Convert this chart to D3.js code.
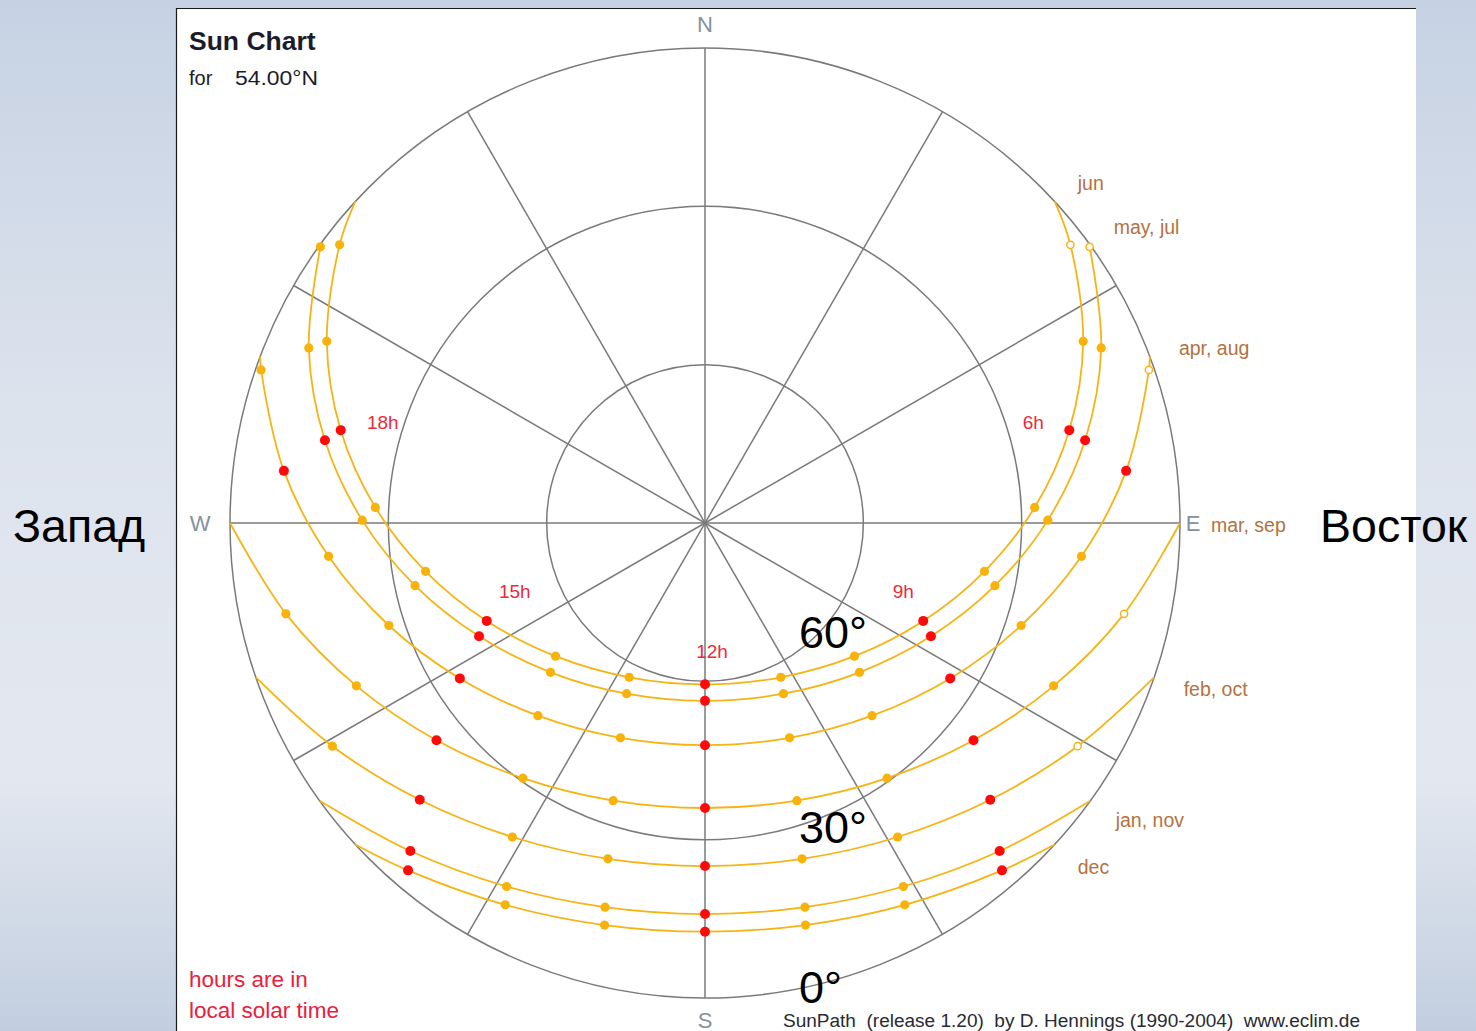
<!DOCTYPE html>
<html>
<head>
<meta charset="utf-8">
<script src="https://cdn.jsdelivr.net/npm/d3@7"></script>
<style>
  html, body { margin: 0; padding: 0; overflow: hidden; background: #dfe5ee; }
  svg { display: block; font-family: "Liberation Sans", Arial, Helvetica, sans-serif; }
</style>
</head>
<body>
<script>
// ---- Sun path data for latitude 54.00°N (altitude / azimuth in degrees, azimuth from north, clockwise)
const latitudeLabel = "54.00°N";
const monthNames = ["jun", "may, jul", "apr, aug", "mar, sep", "feb, oct", "jan, nov", "dec"];

const junHours = [4, 5, 6, 7, 8, 9, 10, 11, 12, 13, 14, 15, 16, 17, 18, 19, 20];
const junAlt = [2.99, 10.50, 18.77, 27.47, 36.26, 44.68, 52.08, 57.43, 59.44, 57.43, 52.08, 44.68, 36.26, 27.47, 18.77, 10.50, 2.99];
const junAz  = [52.72, 64.33, 75.70, 87.30, 99.80, 114.16, 131.71, 153.82, 180, 206.18, 228.29, 245.84, 260.20, 272.70, 284.30, 295.67, 307.28];

const mayHours = [4, 5, 6, 7, 8, 9, 10, 11, 12, 13, 14, 15, 16, 17, 18, 19, 20];
const mayAlt = [0.29, 7.93, 16.30, 25.04, 33.80, 42.11, 49.29, 54.41, 56.30, 54.41, 49.29, 42.11, 33.80, 25.04, 16.30, 7.93, 0.29];
const mayAz  = [54.32, 66.16, 77.73, 89.52, 102.19, 116.64, 134.02, 155.32, 180, 204.68, 225.98, 243.36, 257.81, 270.48, 282.27, 293.84, 305.68];

const aprHours = [5, 6, 7, 8, 9, 10, 11, 12, 13, 14, 15, 16, 17, 18, 19];
const aprAlt = [1.03, 9.60, 18.40, 27.03, 35.00, 41.68, 46.25, 47.90, 46.25, 41.68, 35.00, 27.03, 18.40, 9.60, 1.03];
const aprAz  = [70.97, 82.94, 95.06, 107.96, 122.37, 139.08, 158.52, 180, 201.48, 220.92, 237.63, 252.04, 264.94, 277.06, 289.03];

const marHours = [7, 8, 9, 10, 11, 12, 13, 14, 15, 16, 17];
const marAlt = [8.75, 17.09, 24.56, 30.60, 34.59, 36.00, 34.59, 30.60, 24.56, 17.09, 8.75];
const marAz  = [102.23, 115.04, 128.97, 144.49, 161.69, 180, 198.31, 215.51, 231.03, 244.96, 257.77];

const febHours = [8, 9, 10, 11, 12, 13, 14, 15, 16];
const febAlt = [7.71, 14.69, 20.20, 23.76, 25.00, 23.76, 20.20, 14.69, 7.71];
const febAz  = [120.92, 134.14, 148.47, 163.88, 180, 196.12, 211.53, 225.86, 239.08];

const janHours = [9, 10, 11, 12, 13, 14, 15];
const janAlt = [6.45, 11.54, 14.78, 15.90, 14.78, 11.54, 6.45];
const janAz  = [138.07, 151.38, 165.42, 180, 194.58, 208.62, 221.93];

const decHours = [9, 10, 11, 12, 13, 14, 15];
const decAlt = [3.41, 8.35, 11.48, 12.56, 11.48, 8.35, 3.41];
const decAz  = [139.47, 152.38, 165.97, 180, 194.03, 207.62, 220.53];

// sunrise / sunset azimuths (sun on the horizon)
const sunriseAz = [47.40, 53.83, 69.46, 90.00, 108.94, 125.78, 132.60];
const sunsetAz  = [312.60, 306.17, 290.54, 270.00, 251.06, 234.22, 227.40];

// first morning hour drawn as an open marker
const openMarkerHours = [[4], [4], [5], [7], [8], [], []];

const keyHours = [6, 9, 12, 15, 18];
const keyHourLabels = ["6h", "9h", "12h", "15h", "18h"];

const altitudeRings = [0, 30, 60];
const ringLabels = ["0°", "30°", "60°"];
const spokeAzimuths = [0, 30, 60, 90, 120, 150, 180, 210, 240, 270, 300, 330];
const compassLetters = ["N", "E", "S", "W"];

// ---- layout
const W = 1476, H = 1031;
const cx = 705, cy = 523, R = 475;

const monthHours = [junHours, mayHours, aprHours, marHours, febHours, janHours, decHours];
const monthAlt = [junAlt, mayAlt, aprAlt, marAlt, febAlt, janAlt, decAlt];
const monthAz = [junAz, mayAz, aprAz, marAz, febAz, janAz, decAz];

const series = monthNames.map((name, i) => ({
  name,
  points: monthHours[i].map((h, j) => ({ hour: h, alt: monthAlt[i][j], az: monthAz[i][j] })),
  rise: { alt: 0, az: sunriseAz[i] },
  set: { alt: 0, az: sunsetAz[i] },
  open: openMarkerHours[i]
}));

const rScale = d3.scaleLinear().domain([90, 0]).range([0, R]);
const rad = d => d * Math.PI / 180;
const px = (alt, az) => [Math.sin(rad(az)) * rScale(alt), -Math.cos(rad(az)) * rScale(alt)];

const svg = d3.select("body").append("svg").attr("width", W).attr("height", H);

// backdrop
const defs = svg.append("defs");
const bg = defs.append("linearGradient").attr("id", "sky").attr("x1", 0).attr("y1", 0).attr("x2", 0).attr("y2", 1);
bg.append("stop").attr("offset", "0%").attr("stop-color", "#c6d2e3");
bg.append("stop").attr("offset", "40%").attr("stop-color", "#dde3ed");
bg.append("stop").attr("offset", "75%").attr("stop-color", "#e3e8f0");
bg.append("stop").attr("offset", "100%").attr("stop-color", "#c2cedf");
svg.append("rect").attr("width", W).attr("height", H).attr("fill", "url(#sky)");

// chart panel
svg.append("rect").attr("x", 176).attr("y", 8).attr("width", 1240).attr("height", H - 8).attr("fill", "#ffffff");
svg.append("path").attr("d", `M176.5,${H} V8.5 H1416`).attr("fill", "none").attr("stroke", "#1a1a1a").attr("stroke-width", 1.2);

const g = svg.append("g").attr("transform", `translate(${cx},${cy})`);

// grid: altitude rings and azimuth spokes
g.selectAll("circle.ring").data(altitudeRings).join("circle")
  .attr("class", "ring").attr("r", d => rScale(d))
  .attr("fill", "none").attr("stroke", "#7a7a7a").attr("stroke-width", 1.5);

g.selectAll("line.spoke").data(spokeAzimuths).join("line")
  .attr("class", "spoke")
  .attr("x1", 0).attr("y1", 0)
  .attr("x2", d => px(0, d)[0]).attr("y2", d => px(0, d)[1])
  .attr("stroke", "#7a7a7a").attr("stroke-width", 1.5);

// compass letters
const compassOffset = { N: [0, -R - 24], E: [R + 13, 0], S: [0, R + 22], W: [-R - 30, 0] };
g.selectAll("text.compass").data(compassLetters).join("text")
  .attr("class", "compass")
  .attr("x", d => compassOffset[d][0]).attr("y", d => compassOffset[d][1])
  .attr("text-anchor", "middle").attr("dominant-baseline", "central")
  .attr("font-size", 22).attr("fill", "#8690a0")
  .text(d => d);

// sun paths
const pathLine = d3.lineRadial()
  .angle(d => rad(d.az))
  .radius(d => rScale(d.alt))
  .curve(d3.curveCatmullRom.alpha(0.5));

g.selectAll("path.sun").data(series).join("path")
  .attr("class", "sun")
  .attr("d", s => pathLine([s.rise, ...s.points, s.set]))
  .attr("fill", "none").attr("stroke", "#f6b414").attr("stroke-width", 1.8);

// hour markers
series.forEach(s => {
  g.selectAll(null).data(s.points).join("circle")
    .attr("cx", d => px(d.alt, d.az)[0])
    .attr("cy", d => px(d.alt, d.az)[1])
    .attr("r", d => keyHours.includes(d.hour) ? 5 : (s.open.includes(d.hour) ? 3.6 : 4.6))
    .attr("fill", d => keyHours.includes(d.hour) ? "#ff0a0a" : (s.open.includes(d.hour) ? "#ffffff" : "#f8b20a"))
    .attr("stroke", d => s.open.includes(d.hour) && !keyHours.includes(d.hour) ? "#f5b41c" : "none")
    .attr("stroke-width", 1.5);
});

// key hour labels, placed beside the June markers
const hourLabelShift = { 6: [-36, -8], 9: [-20, -29], 12: [7, -33], 15: [28, -29], 18: [42, -8] };
const junPts = series[0].points;
g.selectAll("text.hour").data(keyHours).join("text")
  .attr("class", "hour")
  .attr("x", h => { const p = junPts.find(q => q.hour === h); return px(p.alt, p.az)[0] + hourLabelShift[h][0]; })
  .attr("y", h => { const p = junPts.find(q => q.hour === h); return px(p.alt, p.az)[1] + hourLabelShift[h][1]; })
  .attr("text-anchor", "middle").attr("dominant-baseline", "central")
  .attr("font-size", 19).attr("fill", "#ec2a3c")
  .text((h, i) => keyHourLabels[i]);

// month labels just outside the horizon, at sunrise
g.selectAll("text.month").data(series).join("text")
  .attr("class", "month")
  .attr("x", (s) => Math.sin(rad(s.rise.az)) * (R + 30) + 1)
  .attr("y", (s) => -Math.cos(rad(s.rise.az)) * (R + 30) + 2)
  .attr("dominant-baseline", "central")
  .attr("font-size", 19.5).attr("fill", "#b3723f")
  .text(s => s.name);

// titles and notes
svg.append("text").attr("x", 189).attr("y", 50).attr("font-size", 26.5).attr("font-weight", "bold").attr("fill", "#1c1c28").text("Sun Chart");
svg.append("text").attr("x", 189).attr("y", 85).attr("font-size", 20).attr("fill", "#1c1c28").text("for");
svg.append("text").attr("x", 235).attr("y", 85).attr("font-size", 20).attr("fill", "#1c1c28")
  .attr("textLength", 83).attr("lengthAdjust", "spacingAndGlyphs").text(latitudeLabel);

svg.append("text").attr("x", 189).attr("y", 987).attr("font-size", 22.5).attr("fill", "#e8203c").text("hours are in");
svg.append("text").attr("x", 189).attr("y", 1018).attr("font-size", 22.5).attr("fill", "#e8203c").text("local solar time");

svg.append("text").attr("x", 783).attr("y", 1027).attr("font-size", 18).attr("fill", "#2a2a34")
  .attr("xml:space", "preserve")
  .attr("textLength", 577).attr("lengthAdjust", "spacingAndGlyphs")
  .text("SunPath  (release 1.20)  by D. Hennings (1990-2004)  www.eclim.de");

// ring altitude labels
const ringLabelY = { 60: 648, 30: 843, 0: 1003 };
svg.selectAll("text.ringlab").data(altitudeRings).join("text")
  .attr("class", "ringlab")
  .attr("x", 799).attr("y", d => ringLabelY[d])
  .attr("font-size", 45).attr("fill", "#000")
  .text((d, i) => ringLabels[i]);

// side captions
svg.append("text").attr("x", 13).attr("y", 542).attr("font-size", 46.5).attr("fill", "#000").text("Запад");
svg.append("text").attr("x", 1320).attr("y", 542).attr("font-size", 46.5).attr("fill", "#000").text("Восток");
</script>
</body>
</html>
